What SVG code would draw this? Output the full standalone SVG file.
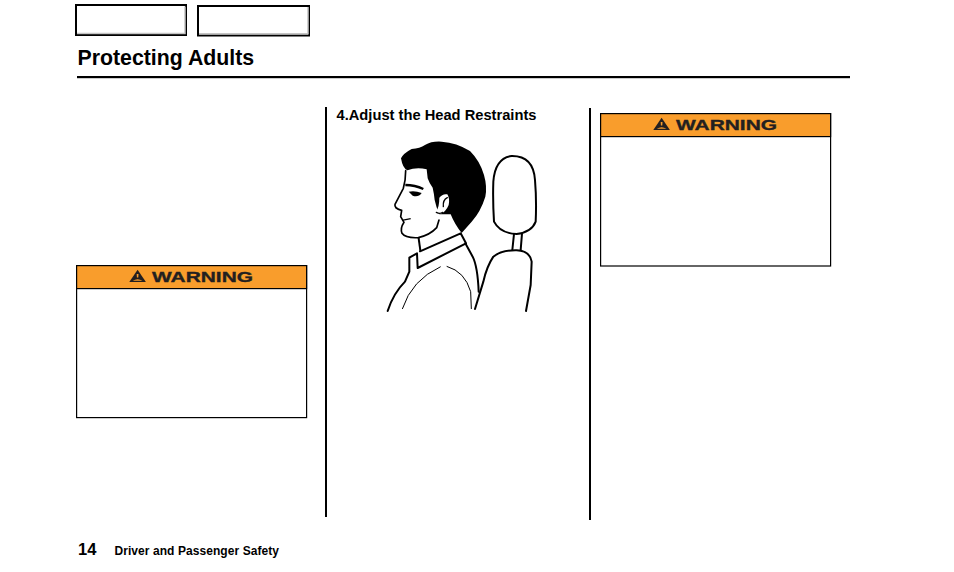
<svg xmlns="http://www.w3.org/2000/svg" width="954" height="572" viewBox="0 0 954 572">
<style>
.t{font-family:"Liberation Sans",Arial,sans-serif;font-weight:700;fill:#000}
.w{font-family:"Liberation Sans",Arial,sans-serif;font-weight:700;font-size:15.5px;fill:#231f20;stroke:#231f20;stroke-width:.35px}
.box{fill:#fff;stroke:#000;stroke-width:1.2}
.bar{fill:#f99d2c;stroke:#000;stroke-width:1.2}
.btn{fill:#fff;stroke:#000;stroke-width:2}
.sh{fill:none;stroke:#c4c4c4;stroke-width:1.5}
.ink{fill:none;stroke:#000;stroke-width:6;stroke-linejoin:round;stroke-linecap:round}
.thin{fill:none;stroke:#000;stroke-width:4;stroke-linecap:round}
</style>
<defs>
<g id="tri"><path d="M0 0L8.300-12.200L16.600 0Z" fill="#231f20"/><path d="M7.400-8h1.800l-.2 3.500h-1.400ZM3.400-1.200q4.900-3 9.800 0Z" fill="#f99d2c"/></g>
</defs>
<rect width="954" height="572" fill="#fff"/>
<g id="nav-buttons">
<rect class="btn" x="76" y="5" width="110" height="30"/>
<path class="sh" d="M77 33.500H185V6.500"/>
<rect class="btn" x="198" y="6" width="111" height="29.500"/>
<path class="sh" d="M199 33.800H308V7"/>
</g>
<g id="heading">
<text class="t" x="77.500" y="65" font-size="21.300">Protecting Adults</text>
<rect x="77" y="76" width="773" height="2.200" fill="#000"/>
</g>
<g id="column-rules">
<rect x="325" y="107" width="2" height="410" fill="#000"/>
<rect x="589" y="108" width="2" height="412" fill="#000"/>
</g>
<g id="warning-left">
<rect class="box" x="76.600" y="265.600" width="230" height="152"/>
<rect class="bar" x="76.600" y="265.600" width="230" height="23"/>
<use href="#tri" x="129.300" y="282"/>
<text class="w" x="152" y="282" textLength="101" lengthAdjust="spacingAndGlyphs">WARNING</text>
</g>
<g id="warning-right">
<rect class="box" x="600.600" y="113.600" width="230" height="152.400"/>
<rect class="bar" x="600.600" y="113.600" width="230" height="23"/>
<use href="#tri" x="653.300" y="130"/>
<text class="w" x="676" y="130" textLength="101" lengthAdjust="spacingAndGlyphs">WARNING</text>
</g>
<g id="step-title"><text class="t" x="336.500" y="120" font-size="14.700">4.Adjust the Head Restraints</text></g>
<g id="head-illustration" transform="translate(340 125) scale(.33333)">
<path fill="#000" d="M183 100Q190 85 215 72Q240 70 255 60Q275 48 305 50Q350 53 390 78Q420 108 432 150Q442 185 436 215Q422 260 395 290L365 324Q345 300 332 268L298 268Q288 245 284 225Q282 205 278 188Q268 175 263 160L260 133Q230 125 202 136Q188 130 183 100Z"/>
<path fill="#fff" d="M298 218Q308 205 322 208Q330 220 326 240Q318 260 302 266Q290 268 289 258Q298 245 298 218Z"/>
<path class="thin" d="M322 218Q308 225 310 245M289 262Q300 268 308 262"/>
<path class="ink" style="stroke-width:5" d="M197 137Q197 165 190 190L165 238Q162 250 185 256L182 275L192 292Q180 310 186 325Q196 340 235 338Q270 330 290 308L297 285"/>
<path fill="none" stroke="#000" stroke-width="7" d="M196 180Q225 180 250 192"/>
<path fill="#000" d="M206 200Q225 196 245 204Q235 218 218 212Z"/>
<path fill="none" stroke="#000" stroke-width="4" d="M186 286L212 281"/>
<path class="ink" d="M236 340L241 376"/>
<path class="ink" d="M240 379L362 325L378 355L233 429L231 385L208 398L208 440L195 470Q160 505 143 558"/>
<path class="ink" d="M376 355L398 395Q413 425 416 500"/>
<path fill="none" stroke="#000" stroke-width="3" d="M187 552Q215 465 302 425M320 424Q375 440 392 500L394 552"/>
<path class="ink" d="M515 93Q580 92 585 165Q590 225 587 290Q575 322 530 327Q480 325 462 290Q458 225 460 170Q465 100 515 93Z"/>
<path class="ink" d="M522 327L517 375M546 326L542 375"/>
<path class="ink" d="M405 552L430 470Q440 425 460 395Q485 375 530 376Q570 378 575 410L572 480L558 558"/>
</g>
<g id="footer">
<text class="t" x="78" y="555" font-size="16.500">14</text>
<text class="t" x="114.500" y="555" font-size="12" textLength="164.500" lengthAdjust="spacing">Driver and Passenger Safety</text>
</g>
</svg>
